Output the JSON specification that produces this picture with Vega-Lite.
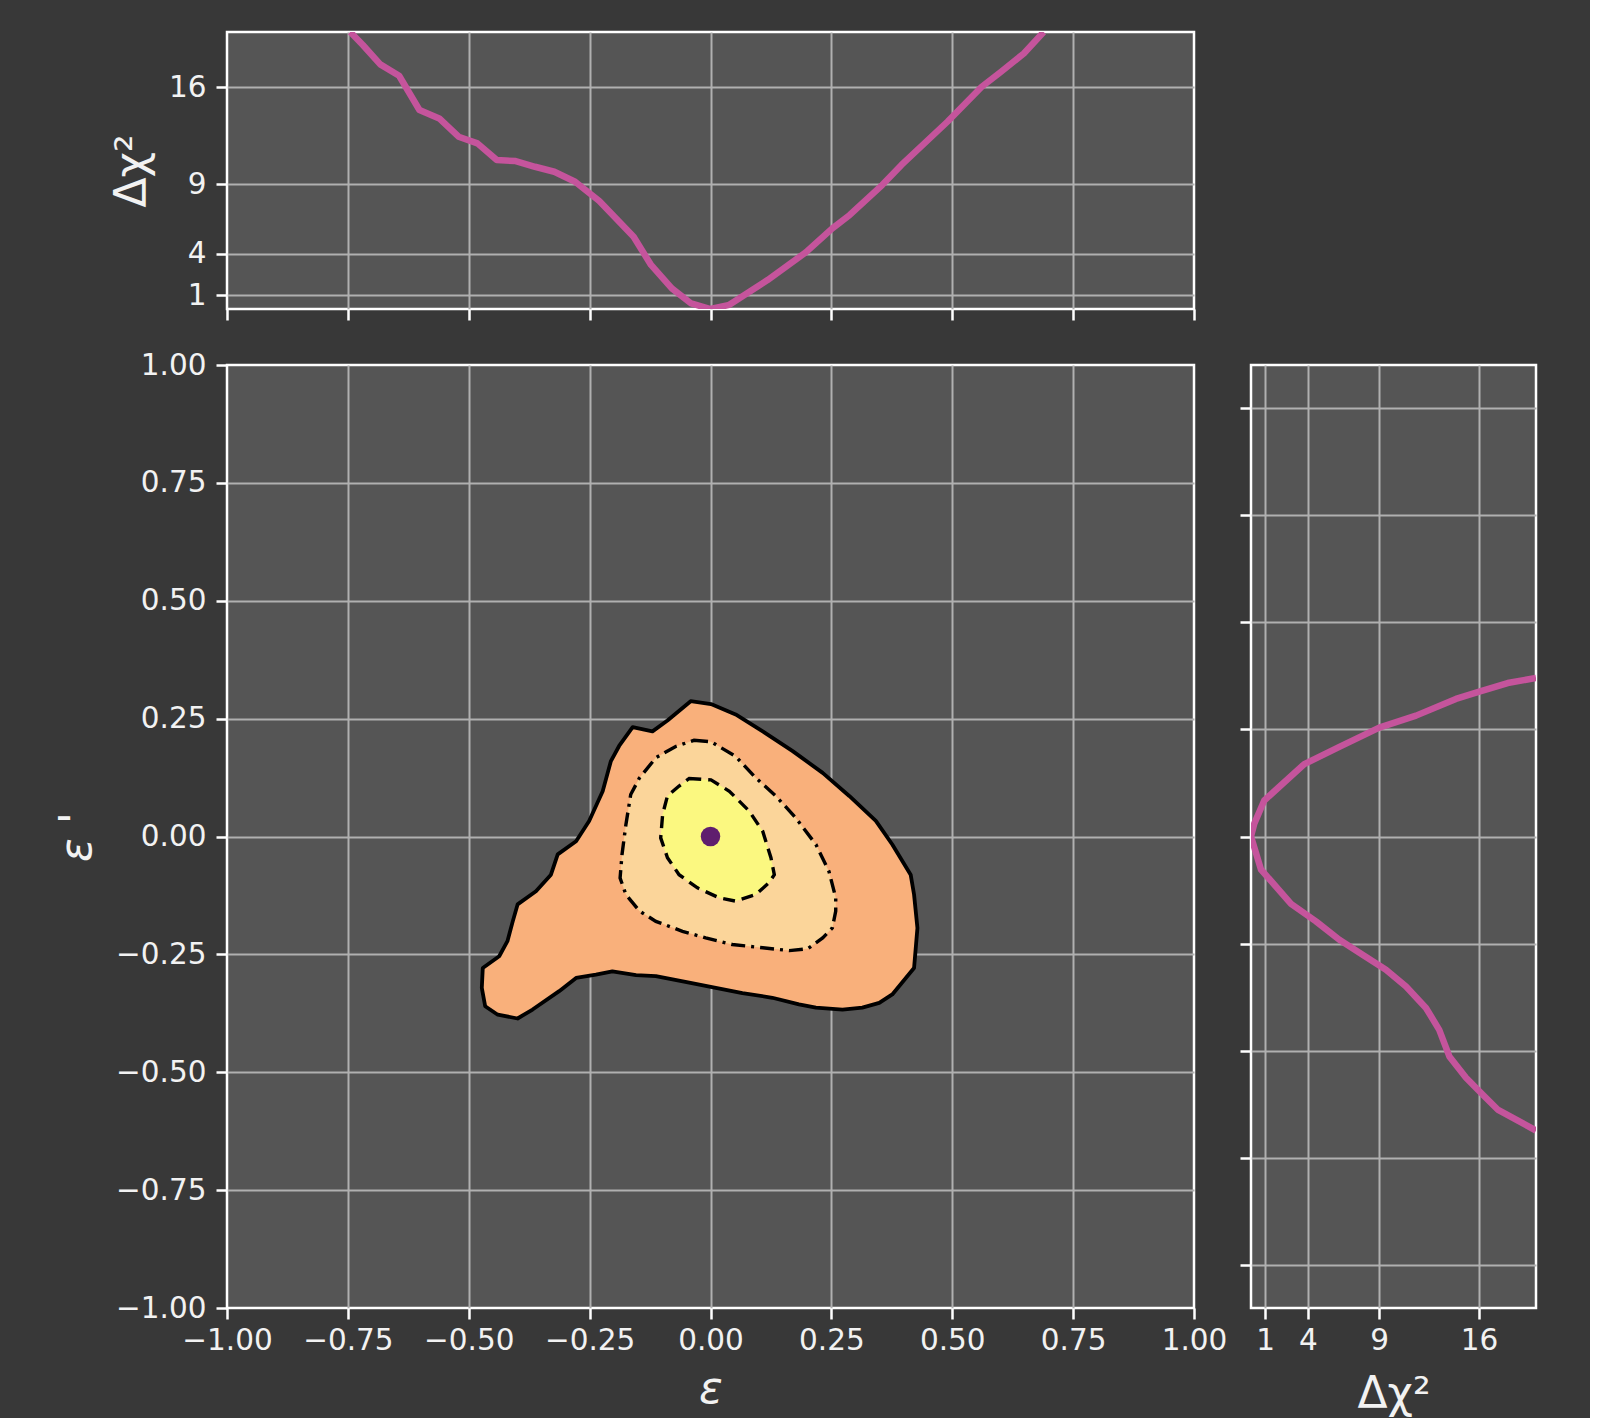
{
  "$schema": "https://vega.github.io/schema/vega-lite/v6.json",
  "background": "#383838",
  "padding": {"left": 54, "top": 30, "right": 52, "bottom": 2},
  "columns": 2,
  "align": "each",
  "bounds": "flush",
  "spacing": {"row": 56, "column": 57},
  "config": {
    "view": {"fill": "#555555", "stroke": "#ffffff", "strokeWidth": 2.5},
    "axis": {
      "domain": false,
      "grid": true,
      "gridColor": "#b0b0b0",
      "gridWidth": 2,
      "ticks": true,
      "tickColor": "#ffffff",
      "tickWidth": 2.5,
      "tickSize": 11,
      "labelFont": "DejaVu Sans",
      "labelFontSize": 29.5,
      "labelColor": "#f2f2f2",
      "labelFlush": false,
      "labelOverlap": false,
      "titleFont": "DejaVu Sans",
      "titleFontSize": 44,
      "titleFontWeight": "normal",
      "titleColor": "#f2f2f2"
    },
    "axisX": {"labelPadding": 7},
    "axisY": {"labelPadding": 10}
  },
  "datasets": {
    "top": [
      {"eps": -0.745, "d": 20.0}, {"eps": -0.719, "d": 19.06}, {"eps": -0.683, "d": 17.66},
      {"eps": -0.644, "d": 16.84}, {"eps": -0.602, "d": 14.37}, {"eps": -0.561, "d": 13.76},
      {"eps": -0.521, "d": 12.44}, {"eps": -0.482, "d": 11.96}, {"eps": -0.442, "d": 10.76},
      {"eps": -0.403, "d": 10.68}, {"eps": -0.363, "d": 10.27}, {"eps": -0.323, "d": 9.91},
      {"eps": -0.280, "d": 9.19}, {"eps": -0.230, "d": 7.8}, {"eps": -0.159, "d": 5.22},
      {"eps": -0.123, "d": 3.18}, {"eps": -0.080, "d": 1.49}, {"eps": -0.040, "d": 0.4},
      {"eps": 0.0, "d": 0.0}, {"eps": 0.039, "d": 0.3}, {"eps": 0.118, "d": 2.09},
      {"eps": 0.197, "d": 4.09}, {"eps": 0.252, "d": 5.82}, {"eps": 0.288, "d": 6.79},
      {"eps": 0.355, "d": 8.95}, {"eps": 0.395, "d": 10.4}, {"eps": 0.490, "d": 13.52},
      {"eps": 0.561, "d": 16.05}, {"eps": 0.601, "d": 17.13}, {"eps": 0.648, "d": 18.45},
      {"eps": 0.689, "d": 20.0}
    ],
    "right": [
      {"i": 1, "d": 20.0, "epsp": 0.370}, {"i": 2, "d": 18.01, "epsp": 0.358}, {"i": 3, "d": 16.02, "epsp": 0.338},
      {"i": 4, "d": 14.38, "epsp": 0.321}, {"i": 5, "d": 11.58, "epsp": 0.282}, {"i": 6, "d": 9.0, "epsp": 0.254},
      {"i": 7, "d": 6.2, "epsp": 0.209}, {"i": 8, "d": 3.74, "epsp": 0.169}, {"i": 9, "d": 0.93, "epsp": 0.084},
      {"i": 10, "d": 0.23, "epsp": 0.03}, {"i": 11, "d": 0.0, "epsp": 0.0}, {"i": 12, "d": 0.7, "epsp": -0.077},
      {"i": 13, "d": 2.81, "epsp": -0.157}, {"i": 14, "d": 4.56, "epsp": -0.198}, {"i": 15, "d": 6.2, "epsp": -0.241},
      {"i": 16, "d": 7.83, "epsp": -0.276}, {"i": 17, "d": 9.47, "epsp": -0.311}, {"i": 18, "d": 10.88, "epsp": -0.35},
      {"i": 19, "d": 12.28, "epsp": -0.4}, {"i": 20, "d": 13.21, "epsp": -0.451}, {"i": 21, "d": 13.92, "epsp": -0.513},
      {"i": 22, "d": 15.09, "epsp": -0.563}, {"i": 23, "d": 16.25, "epsp": -0.602}, {"i": 24, "d": 17.31, "epsp": -0.637},
      {"i": 25, "d": 20.0, "epsp": -0.686}
    ],
    "contours": [
      {"lvl": "c3", "i": 1, "x": -0.041, "y": 0.287}, {"lvl": "c3", "i": 2, "x": 0.001, "y": 0.281},
      {"lvl": "c3", "i": 3, "x": 0.052, "y": 0.259}, {"lvl": "c3", "i": 4, "x": 0.108, "y": 0.223},
      {"lvl": "c3", "i": 5, "x": 0.170, "y": 0.181}, {"lvl": "c3", "i": 6, "x": 0.232, "y": 0.135},
      {"lvl": "c3", "i": 7, "x": 0.287, "y": 0.086}, {"lvl": "c3", "i": 8, "x": 0.342, "y": 0.033},
      {"lvl": "c3", "i": 9, "x": 0.376, "y": -0.017}, {"lvl": "c3", "i": 10, "x": 0.414, "y": -0.081},
      {"lvl": "c3", "i": 11, "x": 0.421, "y": -0.123}, {"lvl": "c3", "i": 12, "x": 0.428, "y": -0.194},
      {"lvl": "c3", "i": 13, "x": 0.421, "y": -0.279}, {"lvl": "c3", "i": 14, "x": 0.404, "y": -0.300},
      {"lvl": "c3", "i": 15, "x": 0.376, "y": -0.335}, {"lvl": "c3", "i": 16, "x": 0.349, "y": -0.353},
      {"lvl": "c3", "i": 17, "x": 0.314, "y": -0.363}, {"lvl": "c3", "i": 18, "x": 0.273, "y": -0.367},
      {"lvl": "c3", "i": 19, "x": 0.218, "y": -0.363}, {"lvl": "c3", "i": 20, "x": 0.183, "y": -0.356},
      {"lvl": "c3", "i": 21, "x": 0.128, "y": -0.342}, {"lvl": "c3", "i": 22, "x": 0.066, "y": -0.332},
      {"lvl": "c3", "i": 23, "x": 0.011, "y": -0.321}, {"lvl": "c3", "i": 24, "x": -0.044, "y": -0.310},
      {"lvl": "c3", "i": 25, "x": -0.113, "y": -0.296}, {"lvl": "c3", "i": 26, "x": -0.154, "y": -0.294},
      {"lvl": "c3", "i": 27, "x": -0.203, "y": -0.286}, {"lvl": "c3", "i": 28, "x": -0.237, "y": -0.293},
      {"lvl": "c3", "i": 29, "x": -0.278, "y": -0.300}, {"lvl": "c3", "i": 30, "x": -0.313, "y": -0.328},
      {"lvl": "c3", "i": 31, "x": -0.368, "y": -0.367}, {"lvl": "c3", "i": 32, "x": -0.399, "y": -0.386},
      {"lvl": "c3", "i": 33, "x": -0.440, "y": -0.378}, {"lvl": "c3", "i": 34, "x": -0.466, "y": -0.360},
      {"lvl": "c3", "i": 35, "x": -0.473, "y": -0.321}, {"lvl": "c3", "i": 36, "x": -0.471, "y": -0.279},
      {"lvl": "c3", "i": 37, "x": -0.437, "y": -0.254}, {"lvl": "c3", "i": 38, "x": -0.420, "y": -0.222},
      {"lvl": "c3", "i": 39, "x": -0.409, "y": -0.180}, {"lvl": "c3", "i": 40, "x": -0.399, "y": -0.144},
      {"lvl": "c3", "i": 41, "x": -0.361, "y": -0.116}, {"lvl": "c3", "i": 42, "x": -0.330, "y": -0.081},
      {"lvl": "c3", "i": 43, "x": -0.316, "y": -0.038}, {"lvl": "c3", "i": 44, "x": -0.278, "y": -0.010},
      {"lvl": "c3", "i": 45, "x": -0.251, "y": 0.033}, {"lvl": "c3", "i": 46, "x": -0.223, "y": 0.096},
      {"lvl": "c3", "i": 47, "x": -0.206, "y": 0.160}, {"lvl": "c3", "i": 48, "x": -0.189, "y": 0.192},
      {"lvl": "c3", "i": 49, "x": -0.161, "y": 0.232}, {"lvl": "c3", "i": 50, "x": -0.120, "y": 0.223},
      {"lvl": "c3", "i": 51, "x": -0.089, "y": 0.246},
      {"lvl": "c2", "i": 1, "x": -0.034, "y": 0.204}, {"lvl": "c2", "i": 2, "x": 0.001, "y": 0.201},
      {"lvl": "c2", "i": 3, "x": 0.052, "y": 0.170}, {"lvl": "c2", "i": 4, "x": 0.094, "y": 0.124},
      {"lvl": "c2", "i": 5, "x": 0.135, "y": 0.086}, {"lvl": "c2", "i": 6, "x": 0.176, "y": 0.040},
      {"lvl": "c2", "i": 7, "x": 0.218, "y": -0.017}, {"lvl": "c2", "i": 8, "x": 0.245, "y": -0.074},
      {"lvl": "c2", "i": 9, "x": 0.259, "y": -0.130}, {"lvl": "c2", "i": 10, "x": 0.259, "y": -0.158},
      {"lvl": "c2", "i": 11, "x": 0.252, "y": -0.194}, {"lvl": "c2", "i": 12, "x": 0.232, "y": -0.215},
      {"lvl": "c2", "i": 13, "x": 0.201, "y": -0.238}, {"lvl": "c2", "i": 14, "x": 0.163, "y": -0.242},
      {"lvl": "c2", "i": 15, "x": 0.108, "y": -0.236}, {"lvl": "c2", "i": 16, "x": 0.045, "y": -0.229},
      {"lvl": "c2", "i": 17, "x": -0.010, "y": -0.215}, {"lvl": "c2", "i": 18, "x": -0.058, "y": -0.201},
      {"lvl": "c2", "i": 19, "x": -0.113, "y": -0.180}, {"lvl": "c2", "i": 20, "x": -0.147, "y": -0.158},
      {"lvl": "c2", "i": 21, "x": -0.175, "y": -0.123}, {"lvl": "c2", "i": 22, "x": -0.187, "y": -0.088},
      {"lvl": "c2", "i": 23, "x": -0.183, "y": -0.038}, {"lvl": "c2", "i": 24, "x": -0.175, "y": 0.025},
      {"lvl": "c2", "i": 25, "x": -0.165, "y": 0.089}, {"lvl": "c2", "i": 26, "x": -0.147, "y": 0.124},
      {"lvl": "c2", "i": 27, "x": -0.113, "y": 0.167}, {"lvl": "c2", "i": 28, "x": -0.072, "y": 0.191},
      {"lvl": "c1", "i": 1, "x": -0.044, "y": 0.123}, {"lvl": "c1", "i": 2, "x": 0.001, "y": 0.120},
      {"lvl": "c1", "i": 3, "x": 0.039, "y": 0.096}, {"lvl": "c1", "i": 4, "x": 0.080, "y": 0.054},
      {"lvl": "c1", "i": 5, "x": 0.108, "y": 0.011}, {"lvl": "c1", "i": 6, "x": 0.125, "y": -0.045},
      {"lvl": "c1", "i": 7, "x": 0.132, "y": -0.081}, {"lvl": "c1", "i": 8, "x": 0.121, "y": -0.098},
      {"lvl": "c1", "i": 9, "x": 0.094, "y": -0.123}, {"lvl": "c1", "i": 10, "x": 0.052, "y": -0.137},
      {"lvl": "c1", "i": 11, "x": 0.018, "y": -0.130}, {"lvl": "c1", "i": 12, "x": -0.027, "y": -0.109},
      {"lvl": "c1", "i": 13, "x": -0.065, "y": -0.081}, {"lvl": "c1", "i": 14, "x": -0.089, "y": -0.045},
      {"lvl": "c1", "i": 15, "x": -0.103, "y": -0.003}, {"lvl": "c1", "i": 16, "x": -0.099, "y": 0.047},
      {"lvl": "c1", "i": 17, "x": -0.089, "y": 0.086}, {"lvl": "c1", "i": 18, "x": -0.065, "y": 0.107}
    ],
    "pt": [{"x": 0.0, "y": 0.0}],
    "blank": [{"a": 0}]
  },
  "concat": [
    {
      "width": 967,
      "height": 277,
      "data": {"name": "top"},
      "mark": {"type": "line", "color": "#c5549c", "strokeWidth": 6.5, "clip": true, "strokeJoin": "round"},
      "encoding": {
        "x": {
          "field": "eps", "type": "quantitative",
          "scale": {"domain": [-1, 1], "nice": false, "zero": false},
          "axis": {
            "values": [-1, -0.75, -0.5, -0.25, 0, 0.25, 0.5, 0.75, 1],
            "labels": false, "title": null,
            "gridOpacity": {"condition": {"test": "abs(datum.value) > 0.99", "value": 0}, "value": 1}
          }
        },
        "y": {
          "field": "d", "type": "quantitative",
          "scale": {"domain": [0, 20], "nice": false, "zero": false},
          "axis": {"values": [1, 4, 9, 16], "title": "Δχ²", "titlePadding": 14}
        }
      }
    },
    {
      "width": 285,
      "height": 277,
      "data": {"name": "blank"},
      "view": {"fill": null, "stroke": null},
      "mark": {"type": "point", "opacity": 0},
      "encoding": {}
    },
    {
      "width": 967,
      "height": 943,
      "data": {"name": "contours"},
      "encoding": {
        "x": {
          "field": "x", "type": "quantitative",
          "scale": {"domain": [-1, 1], "nice": false, "zero": false},
          "axis": {
            "values": [-1, -0.75, -0.5, -0.25, 0, 0.25, 0.5, 0.75, 1],
            "format": ".2f", "title": "ε", "titleFontStyle": "italic", "titlePadding": 13,
            "gridOpacity": {"condition": {"test": "abs(datum.value) > 0.99", "value": 0}, "value": 1}
          }
        },
        "y": {
          "field": "y", "type": "quantitative",
          "scale": {"domain": [-1, 1], "nice": false, "zero": false},
          "axis": {
            "values": [-1, -0.75, -0.5, -0.25, 0, 0.25, 0.5, 0.75, 1],
            "format": ".2f", "title": "ε '", "titleFontStyle": "italic", "titlePadding": 16,
            "gridOpacity": {"condition": {"test": "abs(datum.value) > 0.99", "value": 0}, "value": 1}
          }
        }
      },
      "layer": [
        {
          "transform": [{"filter": "datum.lvl == 'c3'"}],
          "mark": {"type": "line", "interpolate": "linear-closed", "fill": "#f9b07b", "stroke": "#000000", "strokeWidth": 3.8, "strokeJoin": "round"},
          "encoding": {"order": {"field": "i", "type": "quantitative"}}
        },
        {
          "transform": [{"filter": "datum.lvl == 'c2'"}],
          "mark": {"type": "line", "interpolate": "linear-closed", "fill": "#fbd59a", "stroke": "#000000", "strokeWidth": 3.4, "strokeDash": [14, 6, 3, 6]},
          "encoding": {"order": {"field": "i", "type": "quantitative"}}
        },
        {
          "transform": [{"filter": "datum.lvl == 'c1'"}],
          "mark": {"type": "line", "interpolate": "linear-closed", "fill": "#fbf880", "stroke": "#000000", "strokeWidth": 3.4, "strokeDash": [12, 7]},
          "encoding": {"order": {"field": "i", "type": "quantitative"}}
        },
        {
          "data": {"name": "pt"},
          "mark": {"type": "point", "filled": true, "color": "#5f1e6e", "size": 380, "opacity": 1, "strokeWidth": 0},
          "encoding": {}
        }
      ]
    },
    {
      "width": 285,
      "height": 943,
      "data": {"name": "right"},
      "mark": {"type": "line", "color": "#c5549c", "strokeWidth": 6.5, "clip": true, "strokeJoin": "round"},
      "encoding": {
        "x": {
          "field": "d", "type": "quantitative",
          "scale": {"domain": [0, 20], "nice": false, "zero": false},
          "axis": {"values": [1, 4, 9, 16], "title": "Δχ²", "titlePadding": 18}
        },
        "y": {
          "field": "epsp", "type": "quantitative",
          "scale": {"domain": [-1.1, 1.1], "nice": false, "zero": false},
          "axis": {"values": [-1, -0.75, -0.5, -0.25, 0, 0.25, 0.5, 0.75, 1], "labels": false, "title": null}
        },
        "order": {"field": "i", "type": "quantitative"}
      }
    }
  ]
}
